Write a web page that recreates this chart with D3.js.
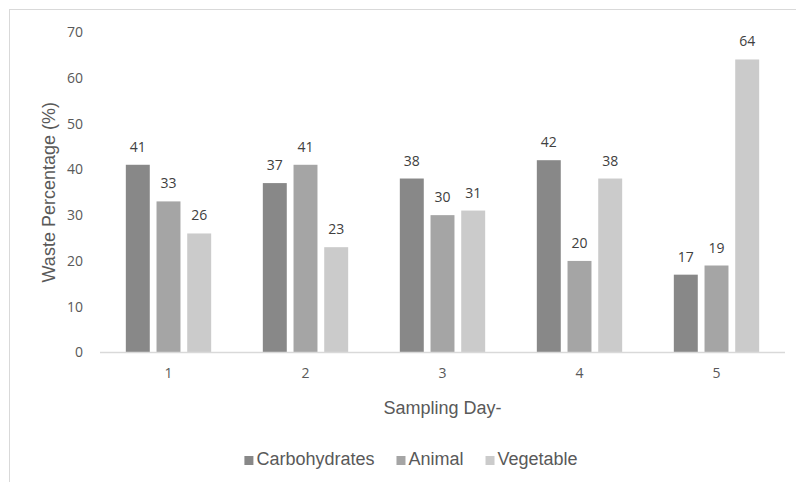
<!DOCTYPE html>
<html>
<head>
<meta charset="utf-8">
<script src="https://cdn.jsdelivr.net/npm/d3@7"></script>
<style>
  body { margin: 0; background: #fff; }
</style>
</head>
<body>
<script>
/////////////////////////////////////////////////
// data
/////////////////////////////////////////////////
var days          = ["1", "2", "3", "4", "5"];
var seriesNames   = ["Carbohydrates", "Animal", "Vegetable"];
var carbohydrates = [41, 37, 38, 42, 17];
var animal        = [33, 41, 30, 20, 19];
var vegetable     = [26, 23, 31, 38, 64];
var yTicks        = [0, 10, 20, 30, 40, 50, 60, 70];

var colors = ["#888888", "#a5a5a5", "#cbcbcb"];

/////////////////////////////////////////////////
// locals
/////////////////////////////////////////////////
var width  = 796,
    height = 482;

var plotLeft   = 100,
    plotRight  = 785,
    plotTop    = 32,
    plotBottom = 352.5;

var svg = d3.select("body")
  .append("svg")
  .attr("width", width)
  .attr("height", height);

// chart frame (only top + left edges visible)
svg.append("rect")
  .attr("x", 9.5)
  .attr("y", 9.5)
  .attr("width", width + 10)
  .attr("height", height + 10)
  .attr("fill", "none")
  .attr("stroke", "#d9d9d9");

var values = [carbohydrates, animal, vegetable];
var rows = days.map(function(d, i) {
  return {
    day: d,
    bars: seriesNames.map(function(s, j) {
      return { name: s, value: values[j][i], idx: j };
    })
  };
});

var x0 = d3.scaleBand()
  .domain(days)
  .range([plotLeft, plotRight])
  .paddingInner(0.377)
  .paddingOuter(0.1885);

var x1 = d3.scaleBand()
  .domain(seriesNames)
  .range([0, x0.bandwidth()])
  .paddingInner(0.22);

var y = d3.scaleLinear()
  .domain([0, 70])
  .range([plotBottom, plotTop]);

// y axis labels
var yAxis = svg.append("g")
  .attr("transform", "translate(" + plotLeft + ",0)")
  .call(d3.axisLeft(y).tickValues(yTicks).tickSize(0).tickPadding(17));
yAxis.select(".domain").remove();
yAxis.selectAll("text")
  .attr("fill", "#595959")
  .style("font-family", "'Open Sans', sans-serif")
  .style("font-size", "14px");

// x axis labels
var xAxis = svg.append("g")
  .attr("transform", "translate(0," + plotBottom + ")")
  .call(d3.axisBottom(x0).tickSize(0).tickPadding(16));
xAxis.select(".domain").remove();
xAxis.selectAll("text")
  .attr("fill", "#595959")
  .style("font-family", "'Open Sans', sans-serif")
  .style("font-size", "14px");

// bars
var groups = svg.selectAll("g.day")
  .data(rows)
  .enter().append("g")
  .attr("class", "day")
  .attr("transform", function(d) { return "translate(" + x0(d.day) + ",0)"; });

groups.selectAll("rect")
  .data(function(d) { return d.bars; })
  .enter().append("rect")
  .attr("x", function(d) { return x1(d.name); })
  .attr("y", function(d) { return y(d.value); })
  .attr("width", x1.bandwidth())
  .attr("height", function(d) { return plotBottom - y(d.value); })
  .attr("fill", function(d) { return colors[d.idx]; });

groups.selectAll("text")
  .data(function(d) { return d.bars; })
  .enter().append("text")
  .attr("x", function(d) { return x1(d.name) + x1.bandwidth() / 2; })
  .attr("y", function(d) { return y(d.value) - 13; })
  .attr("text-anchor", "middle")
  .attr("fill", "#404040")
  .style("font-family", "'Open Sans', sans-serif")
  .style("font-size", "14px")
  .text(function(d) { return d.value; });

// baseline
svg.append("line")
  .attr("x1", plotLeft)
  .attr("x2", plotRight)
  .attr("y1", plotBottom)
  .attr("y2", plotBottom)
  .attr("stroke", "#d9d9d9")
  .attr("stroke-width", 1.5);

// axis titles
svg.append("text")
  .attr("transform", "translate(55," + (plotTop + plotBottom) / 2 + ") rotate(-90)")
  .attr("text-anchor", "middle")
  .attr("fill", "#595959")
  .style("font-family", "'Liberation Sans', Arial, sans-serif")
  .style("font-size", "18px")
  .text("Waste Percentage (%)");

svg.append("text")
  .attr("x", (plotLeft + plotRight) / 2)
  .attr("y", 414)
  .attr("text-anchor", "middle")
  .attr("fill", "#595959")
  .style("font-family", "'Liberation Sans', Arial, sans-serif")
  .style("font-size", "18px")
  .text("Sampling Day-");

// legend
var legend = svg.append("g");
var lx = 0;
seriesNames.forEach(function(s, i) {
  var item = legend.append("g").attr("transform", "translate(" + lx + ",0)");
  item.append("rect")
    .attr("x", 0)
    .attr("y", -9)
    .attr("width", 9)
    .attr("height", 9)
    .attr("fill", colors[i]);
  var t = item.append("text")
    .attr("x", 12)
    .attr("y", 0)
    .attr("fill", "#595959")
    .style("font-family", "'Liberation Sans', Arial, sans-serif")
    .style("font-size", "18px")
    .text(s);
  lx += 12 + t.node().getComputedTextLength() + 22;
});
var legendWidth = lx - 22;
legend.attr("transform", "translate(" + (411 - legendWidth / 2) + ",465)");
</script>
</body>
</html>
